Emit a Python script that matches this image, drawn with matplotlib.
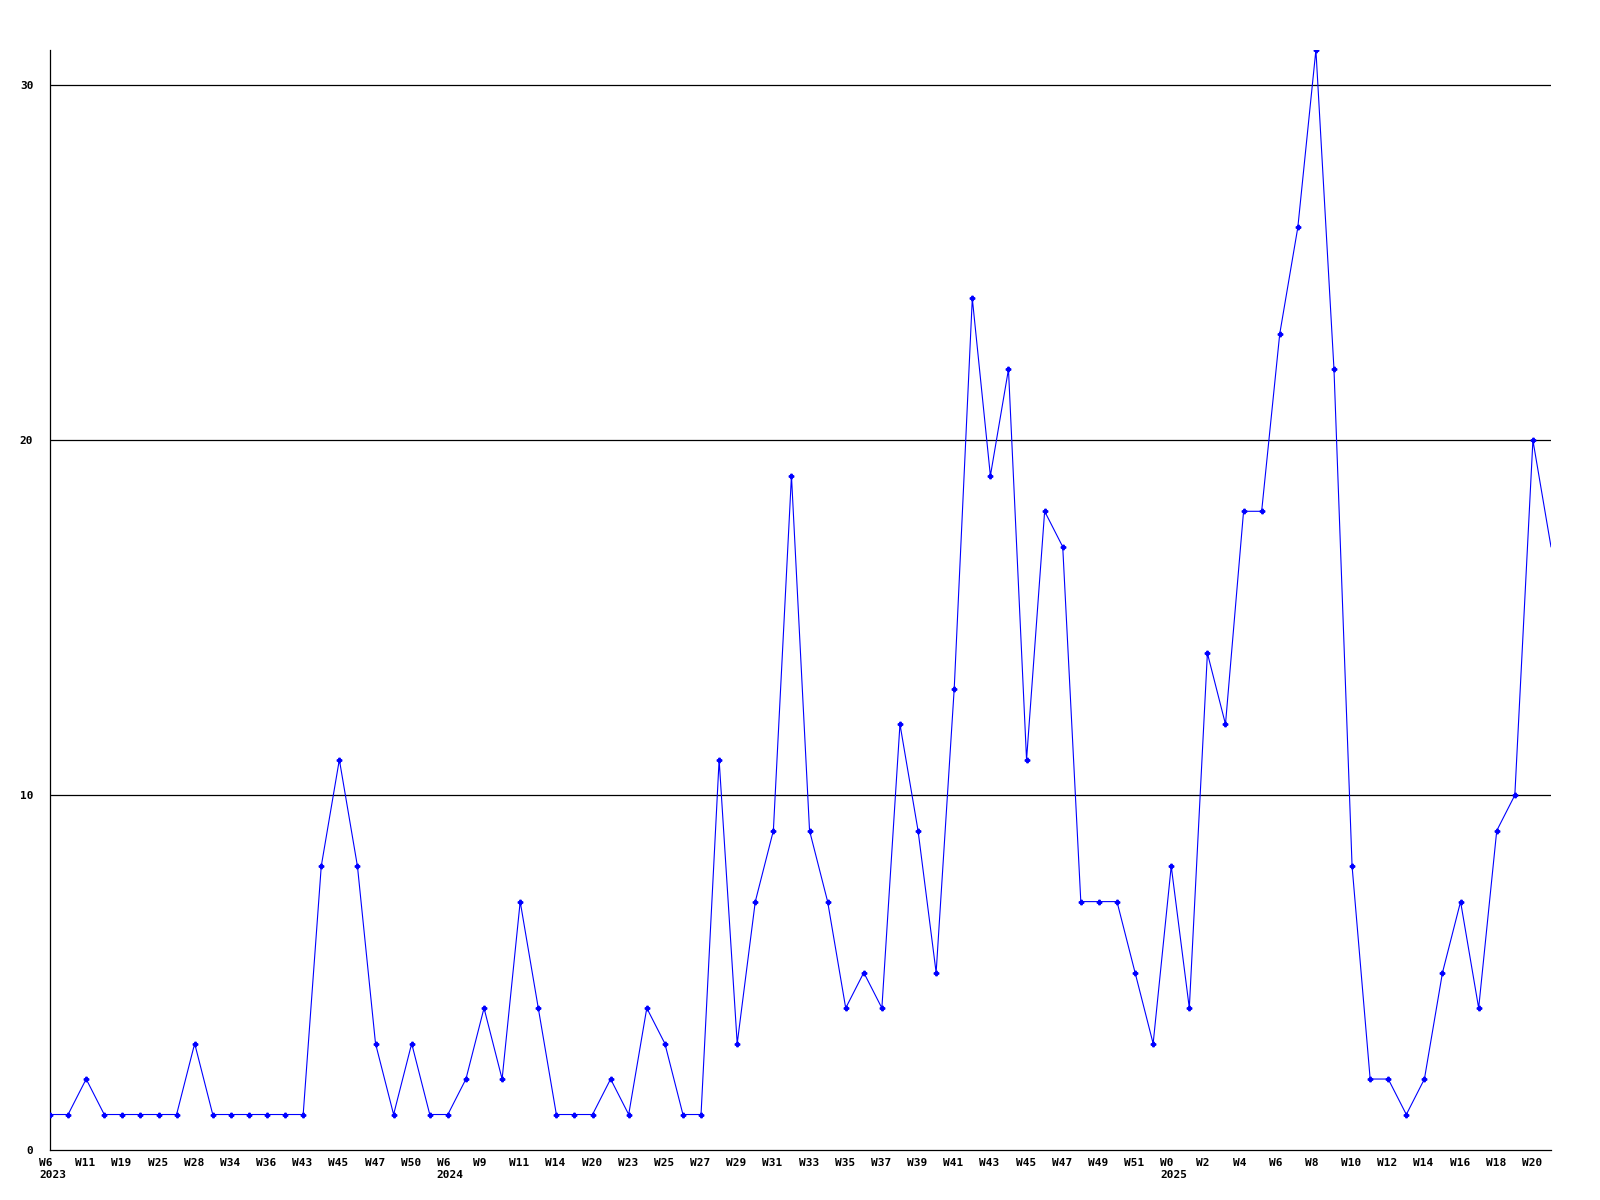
import matplotlib
matplotlib.use("Agg")
import matplotlib.pyplot as plt
import matplotlib.transforms as mtransforms

# weekly counts, one point per week of data
values = [1, 1, 2, 1, 1, 1, 1, 1, 3, 1,
          1, 1, 1, 1, 1, 8, 11, 8, 3, 1,
          3, 1, 1, 2, 4, 2, 7, 4, 1, 1,
          1, 2, 1, 4, 3, 1, 1, 11, 3, 7,
          9, 19, 9, 7, 4, 5, 4, 12, 9, 5,
          13, 24, 19, 22, 11, 18, 17, 7, 7, 7,
          5, 3, 8, 4, 14, 12, 18, 18, 23, 26,
          31, 22, 8, 2, 2, 1, 2, 5, 7, 4,
          9, 10, 20, 17]

# labels shown on every other point
week_labels = ["W6\n2023", "W11", "W19", "W25", "W28", "W34", "W36", "W43", "W45", "W47",
               "W50", "W6\n2024", "W9", "W11", "W14", "W20", "W23", "W25", "W27", "W29",
               "W31", "W33", "W35", "W37", "W39", "W41", "W43", "W45", "W47", "W49",
               "W51", "W0\n2025", "W2", "W4", "W6", "W8", "W10", "W12", "W14", "W16",
               "W18", "W20"]
yticks = [0, 10, 20, 30]

font = {"family": "DejaVu Sans Mono", "weight": "bold", "size": 8}

fig = plt.figure(figsize=(16, 12), dpi=100)
ax = fig.add_axes([50/1600, 1 - 1150/1200, 1501/1600, 1100/1200])

x = list(range(len(values)))
ax.plot(x, values, color="#0000ff", linewidth=0.8, marker="P", markersize=3.2,
        markevery=list(range(len(values) - 1)), zorder=3)

ax.set_xlim(0, len(values) - 1)
ax.set_ylim(0, 31)

for v in yticks[1:]:
    ax.axhline(v, color="black", linewidth=0.9, zorder=1)

ax.spines["top"].set_visible(False)
ax.spines["right"].set_visible(False)
ax.spines["left"].set_linewidth(0.9)
ax.spines["bottom"].set_linewidth(0.9)

ax.set_yticks(yticks)
ax.set_yticklabels([str(v) for v in yticks], fontdict=font)
ax.tick_params(axis="y", length=0, pad=12)

ax.set_xticks(x[::2])
ax.set_xticklabels(week_labels, fontdict=font, ha="left", va="top", linespacing=1.2)
ax.tick_params(axis="x", length=0, pad=6)
offset = mtransforms.ScaledTranslation(-11/100, 0, fig.dpi_scale_trans)
for lab in ax.get_xticklabels():
    lab.set_transform(lab.get_transform() + offset)

plt.savefig("out.png", dpi=100)
